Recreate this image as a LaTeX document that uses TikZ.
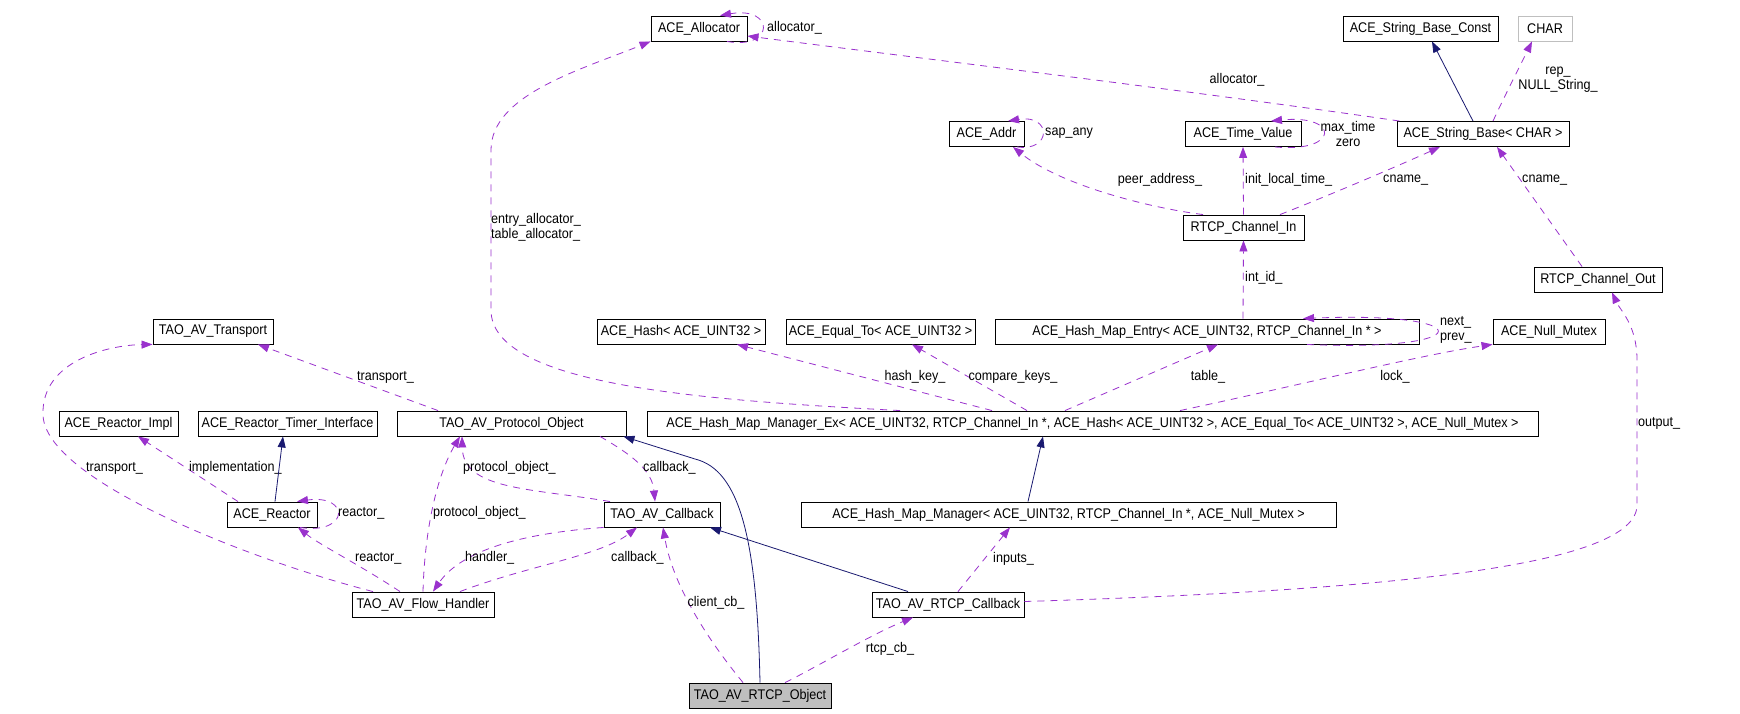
\documentclass[tikz,border=0pt]{standalone}
\usepackage{fontspec}
\setmainfont{Liberation Sans}[FakeStretch=0.9]
\usetikzlibrary{arrows.meta}
\definecolor{depc}{RGB}{154,50,205}
\definecolor{inhc}{RGB}{25,25,112}
\definecolor{grayb}{RGB}{191,191,191}
\newcommand{\dfont}{\fontsize{14}{15}\selectfont}
\begin{document}
\begin{tikzpicture}[x=1pt,y=-1pt,
  box/.style={draw=black, line width=0.9pt, inner sep=0pt, minimum height=25pt, font=\dfont},
  dep/.style={draw=depc, line width=0.8pt, dash pattern=on 7pt off 6pt, -{Triangle[length=11pt,width=8pt]}},
  inh/.style={draw=inhc, line width=0.8pt, -{Triangle[length=11pt,width=8pt]}},
  lbl/.style={font=\dfont, inner sep=0pt, align=left}]
\path[use as bounding box, fill=white] (0,0) rectangle (1740,713);

% nodes
\node[box, minimum width=96pt] (alloc) at (699,28.5) {ACE\_Allocator};
\node[box, minimum width=155pt] (strconst) at (1420.5,28.5) {ACE\_String\_Base\_Const};
\node[box, draw=grayb, minimum width=54pt] (char) at (1545,28.5) {CHAR};
\node[box, minimum width=75pt] (addr) at (986.5,134) {ACE\_Addr};
\node[box, minimum width=116pt] (timev) at (1243,134) {ACE\_Time\_Value};
\node[box, minimum width=172pt] (strbase) at (1483,134) {ACE\_String\_Base< CHAR >};
\node[box, minimum width=121pt] (chin) at (1243.5,227.5) {RTCP\_Channel\_In};
\node[box, minimum width=128pt] (chout) at (1598,279.5) {RTCP\_Channel\_Out};
\node[box, minimum width=120pt] (transport) at (213,331.5) {TAO\_AV\_Transport};
\node[box, minimum width=168pt] (hash) at (681,331.5) {ACE\_Hash< ACE\_UINT32 >};
\node[box, minimum width=189pt] (equal) at (880.5,331.5) {ACE\_Equal\_To< ACE\_UINT32 >};
\node[box, minimum width=424pt] (entry) at (1207,331.5) {ACE\_Hash\_Map\_Entry< ACE\_UINT32, RTCP\_Channel\_In * >};
\node[box, minimum width=112pt] (nullm) at (1549,331.5) {ACE\_Null\_Mutex};
\node[box, minimum width=119pt] (rimpl) at (118.5,423.5) {ACE\_Reactor\_Impl};
\node[box, minimum width=179pt] (rtimer) at (287.5,423.5) {ACE\_Reactor\_Timer\_Interface};
\node[box, minimum width=229pt] (protobj) at (511.5,423.5) {TAO\_AV\_Protocol\_Object};
\node[box, minimum width=891pt] (mgrex) at (1092.5,423.5) {ACE\_Hash\_Map\_Manager\_Ex< ACE\_UINT32, RTCP\_Channel\_In *, ACE\_Hash< ACE\_UINT32 >, ACE\_Equal\_To< ACE\_UINT32 >, ACE\_Null\_Mutex >};
\node[box, minimum width=90pt] (reactor) at (272,514.5) {ACE\_Reactor};
\node[box, minimum width=116pt] (avcb) at (662,514.5) {TAO\_AV\_Callback};
\node[box, minimum width=535pt] (mgr) at (1068.5,514.5) {ACE\_Hash\_Map\_Manager< ACE\_UINT32, RTCP\_Channel\_In *, ACE\_Null\_Mutex >};
\node[box, minimum width=142pt] (flow) at (423,604.5) {TAO\_AV\_Flow\_Handler};
\node[box, minimum width=152pt] (rtcpcb) at (948,604.5) {TAO\_AV\_RTCP\_Callback};
\node[box, fill=grayb, minimum width=142pt] (rtcpobj) at (760,695.5) {TAO\_AV\_RTCP\_Object};

% edges
\draw[dep] (727,0 |- alloc.south) .. controls (775,50) and (775,6) .. (720,0 |- alloc.north);
\node[lbl, anchor=west] (lalloc1) at (767,28) {allocator\_};
\draw[dep] ([xshift=3pt]strbase.north west) .. controls (1200,92) and (950,62) .. ([yshift=-7.5pt]alloc.east);
\node[lbl] (lalloc2) at (1237,80) {allocator\_};
\draw[dep] (900,0 |- mgrex.north) .. controls (700,400) and (491,385) .. (491,310) -- (491,150) .. controls (491,95) and (580,70) .. (alloc.south west);
\node[lbl, anchor=west] (lentry) at (491,227) {entry\_allocator\_\\table\_allocator\_};
\draw[inh] (1473,0 |- strbase.north) -- (1432,0 |- strconst.south);
\draw[dep] (1493,0 |- strbase.north) .. controls (1505,95) and (1522,62) .. (1532,0 |- char.south);
\node[lbl, align=center] (lrep) at (1558,80) {rep\_\\NULL\_String\_};
\draw[dep] (1017,0 |- addr.south) .. controls (1052,152) and (1052,114) .. (1008,0 |- addr.north);
\node[lbl, anchor=west] (lsap) at (1045,133) {sap\_any};
\draw[dep] (1275,0 |- timev.south) .. controls (1340,153) and (1340,114) .. (1271,0 |- timev.north);
\node[lbl, align=center] (lmax) at (1348,134) {max\_time\\zero};
\draw[dep] (1203,0 |- chin.north) .. controls (1150,208) and (1060,185) .. (1013,0 |- addr.south);
\node[lbl] (lpeer) at (1160,180) {peer\_address\_};
\draw[dep] (chin.north) -- (timev.south);
\node[lbl, anchor=west] (linit) at (1245,180) {init\_local\_time\_};
\draw[dep] (1280,0 |- chin.north) .. controls (1330,195) and (1400,165) .. (1440,0 |- strbase.south);
\node[lbl, anchor=west] (lcname1) at (1383,180) {cname\_};
\draw[dep] (1582,0 |- chout.north) -- (1497,0 |- strbase.south);
\node[lbl, anchor=west] (lcname2) at (1522,180) {cname\_};
\draw[dep] (1243,0 |- entry.north) -- (chin.south);
\node[lbl, anchor=west] (lintid) at (1245,278) {int\_id\_};
\draw[dep] (1307,0 |- entry.south) .. controls (1481,352) and (1481,311) .. (1303,0 |- entry.north);
\node[lbl, anchor=west] (lnext) at (1440,330) {next\_\\prev\_};
\draw[dep] (992,0 |- mgrex.north) -- (737,0 |- hash.south);
\node[lbl] (lhash) at (915,377) {hash\_key\_};
\draw[dep] (1027,0 |- mgrex.north) -- (912,0 |- equal.south);
\node[lbl] (lcomp) at (1013,377) {compare\_keys\_};
\draw[dep] (1065,0 |- mgrex.north) -- (1218,0 |- entry.south);
\node[lbl] (ltable) at (1208,377) {table\_};
\draw[dep] (1180,0 |- mgrex.north) .. controls (1300,385) and (1420,355) .. (nullm.south west);
\node[lbl] (llock) at (1395,377) {lock\_};
\draw[inh] (1028,0 |- mgr.north) -- (1043,0 |- mgrex.south);
\draw[dep] (958,0 |- rtcpcb.north) -- (1010,0 |- mgr.south);
\node[lbl, anchor=west] (linputs) at (993,559) {inputs\_};
\draw[dep] ([yshift=3pt]rtcpcb.east) .. controls (1400,590) and (1637,565) .. (1637,505) -- (1637,360) .. controls (1637,325) and (1620,310) .. (1612,0 |- chout.south);
\node[lbl, anchor=west] (loutput) at (1638,423) {output\_};
\draw[inh] (908,0 |- rtcpcb.north) -- (710,0 |- avcb.south);
\draw[inh] (rtcpobj.north) .. controls (757,540) and (740,470) .. (695,459) -- ([xshift=-3pt]protobj.south east);
\draw[dep] (743,0 |- rtcpobj.north) .. controls (700,630) and (672,580) .. (663,0 |- avcb.south);
\node[lbl] (lclient) at (716,603) {client\_cb\_};
\draw[dep] (785,0 |- rtcpobj.north) .. controls (815,668) and (870,635) .. (913,0 |- rtcpcb.south);
\node[lbl] (lrtcp) at (890,649) {rtcp\_cb\_};
\draw[dep] (610,0 |- avcb.north) .. controls (530,488) and (463,490) .. (462,0 |- protobj.south);
\node[lbl, anchor=west] (lpo1) at (463,468) {protocol\_object\_};
\draw[dep] (600,0 |- protobj.south) .. controls (632,455) and (652,470) .. (655,0 |- avcb.north);
\node[lbl, anchor=west] (lcb1) at (643,468) {callback\_};
\draw[dep] (423,0 |- flow.north) .. controls (425,520) and (440,470) .. (460,0 |- protobj.south);
\node[lbl, anchor=west] (lpo2) at (433,513) {protocol\_object\_};
\draw[dep] (avcb.south west) .. controls (540,532) and (465,545) .. (433,0 |- flow.north);
\node[lbl, anchor=west] (lhandler) at (465,558) {handler\_};
\draw[dep] (460,0 |- flow.north) .. controls (530,565) and (600,556) .. (637,0 |- avcb.south);
\node[lbl, anchor=west] (lcb2) at (611,558) {callback\_};
\draw[dep] (400,0 |- flow.north) .. controls (360,565) and (320,545) .. (298,0 |- reactor.south);
\node[lbl, anchor=west] (lreact1) at (355,558) {reactor\_};
\draw[dep] (300,0 |- reactor.south) .. controls (350,535) and (350,494) .. (297,0 |- reactor.north);
\node[lbl, anchor=west] (lreact2) at (338,513) {reactor\_};
\draw[dep] (238,0 |- reactor.north) -- (138,0 |- rimpl.south);
\node[lbl, anchor=west] (limpl) at (189,468) {implementation\_};
\draw[inh] (275,0 |- reactor.north) -- (283,0 |- rtimer.south);
\draw[dep] (373,0 |- flow.north) .. controls (250,560) and (45,480) .. (43,415) .. controls (41,360) and (110,345) .. (transport.south west);
\node[lbl, anchor=west] (ltr1) at (86,468) {transport\_};
\draw[dep] (438,0 |- protobj.north) -- (258,0 |- transport.south);
\node[lbl, anchor=west] (ltr2) at (357,377) {transport\_};
\end{tikzpicture}
\end{document}
